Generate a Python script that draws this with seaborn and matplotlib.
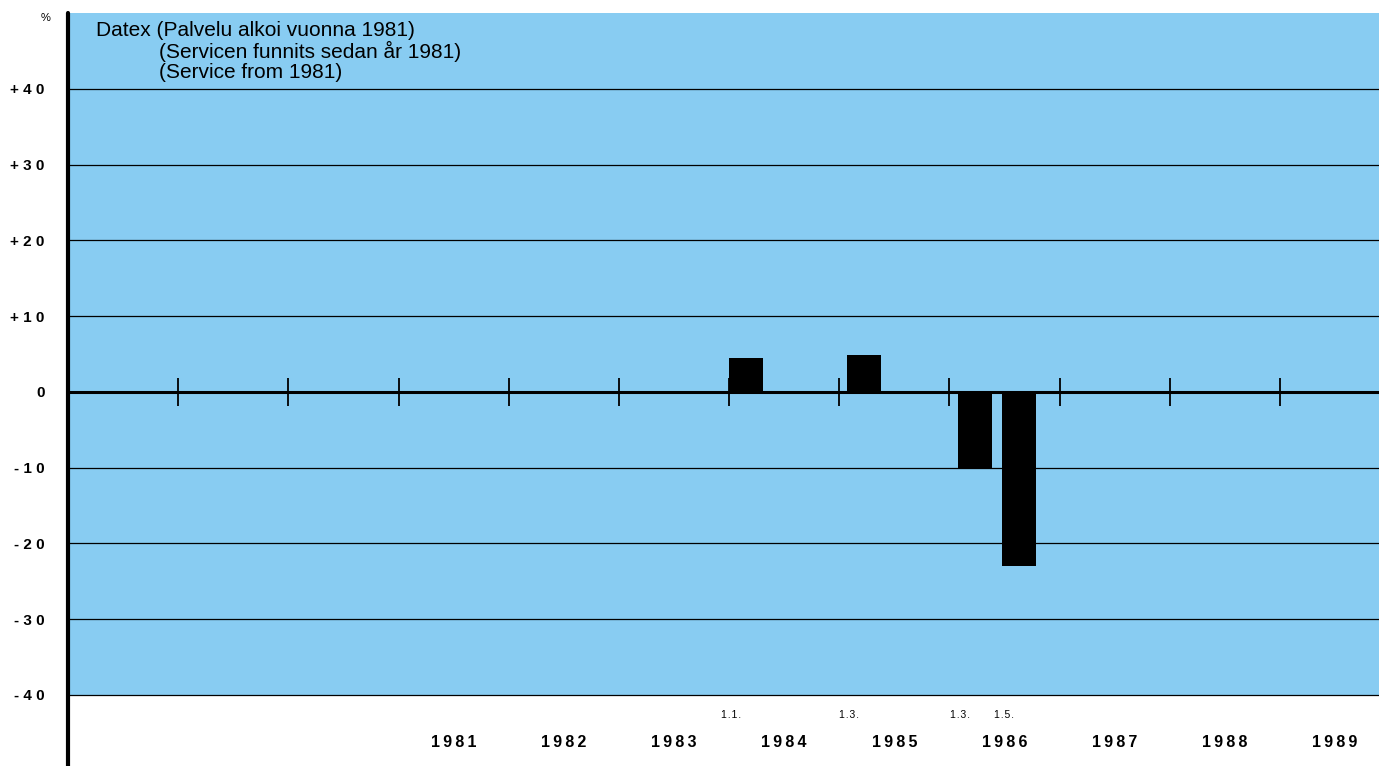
import numpy as np
import matplotlib.pyplot as plt
import seaborn as sns

# data
years = [1981, 1982, 1983, 1984, 1985, 1986, 1987, 1988, 1989]
tick_years = list(range(1979, 1990))
bar_dates = ["1.1.", "1.3.", "1.3.", "1.5."]
bar_start = [1984.00, 1985.07, 1986.08, 1986.48]   # decimal year where each bar begins
bar_change = [4.5, 4.9, -10.0, -23.0]               # % change
y_levels = [-40, -30, -20, -10, 0, 10, 20, 30, 40]
title_lines = ["Datex (Palvelu alkoi vuonna 1981)",
               "(Servicen funnits sedan år 1981)",
               "(Service from 1981)"]

sns.set_style("white")
plt.rcParams['font.family'] = ['Liberation Sans', 'DejaVu Sans']
plt.rcParams['text.color'] = 'black'
plt.rcParams['xtick.color'] = 'black'
plt.rcParams['ytick.color'] = 'black'
plt.rcParams['xtick.labelcolor'] = 'black'
plt.rcParams['ytick.labelcolor'] = 'black'

blue = "#88CCF2"
fig = plt.figure(figsize=(13.79, 7.66), dpi=100)
ax = fig.add_axes([68 / 1379, 71 / 766, 1 - 68 / 1379, 682 / 766])
ax.set_facecolor(blue)
ax.set_xlim(1978, 1989.9)
ax.set_ylim(-40, 50)

# horizontal rules
for v in y_levels:
    ax.axhline(v, color="black", lw=2.2 if v == 0 else 0.9, zorder=1, clip_on=False)

# year ticks on the zero line
ax.vlines(tick_years, -1.8, 1.8, color="black", lw=1.3, zorder=2)

# bars
ax.bar(bar_start, bar_change, width=0.31, align="edge", color="black",
       edgecolor="none", linewidth=0, zorder=3)

# y axis
sns.despine(ax=ax, top=True, right=True, bottom=True, left=True)
ax.axvline(1978, ymin=-71 / 682, ymax=1, color="black", lw=3, clip_on=False, zorder=5)


def spaced(v):
    s = "0" if v == 0 else ("+" if v > 0 else "-") + str(abs(v))
    return " ".join(s)


ax.set_yticks(y_levels)
ax.set_yticklabels([spaced(v) for v in y_levels], fontsize=11, fontweight="bold")
ax.tick_params(axis="y", direction="out", length=14, width=1, color="black",
               labelcolor="black", pad=3)

# year labels below the panel
ax.set_xticks([y + 0.5 for y in years])
ax.set_xticklabels(["\u2009".join(str(y)) for y in years], fontsize=11.5, fontweight="bold")
ax.tick_params(axis="x", length=0, pad=29, labelcolor="black")

# small date labels
for d, x in zip(bar_dates, bar_start):
    ax.text(x + 0.02, -42.7, "\u200a".join(d), ha="center", va="center", fontsize=7.5,
            color="black", clip_on=False)

ax.text(-0.013, 0.992, "%", transform=ax.transAxes, ha="right", va="center",
        fontsize=8, color="black")

# title block
ax.text(1978.25, 47.7, title_lines[0], ha="left", va="center", fontsize=15, color="black")
ax.text(1978.83, 44.95, title_lines[1], ha="left", va="center", fontsize=15, color="black")
ax.text(1978.83, 42.2, title_lines[2], ha="left", va="center", fontsize=15, color="black")

fig.savefig("out.png", dpi=100)
